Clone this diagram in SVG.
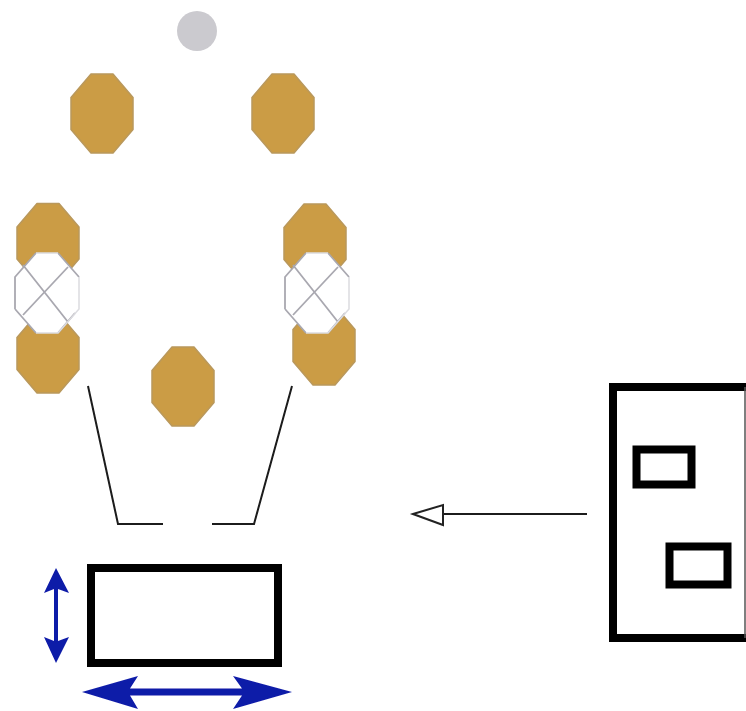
<svg xmlns="http://www.w3.org/2000/svg" width="746" height="711" viewBox="0 0 746 711">
<style>
.gold{fill:#cb9c45;stroke:#b9985c;stroke-width:1.5;stroke-linejoin:round}
.valve{fill:#fff;stroke:none}
.edge{fill:none;stroke:#a9a8b0;stroke-width:1.8}
.faint{fill:none;stroke:#dcdce0;stroke-width:1.5}
.thick{fill:#fff;stroke:#000;stroke-width:8}
.wall{fill:none;stroke:#1a1a1a;stroke-width:2}
.blue{fill:#0f1aa8;stroke:none}
</style>
<defs>
<filter id="soft" x="-20%" y="-20%" width="140%" height="140%"><feGaussianBlur stdDeviation="0.7"/></filter>
<polygon id="oct" points="-11,-39.5 11,-39.5 31,-16 31,16 11,39.5 -11,39.5 -31,16 -31,-16"/>
<g id="valveShape">
<polygon class="valve" points="-11,-40 11,-40 32,-16 32,16 11,40 -11,40 -32,16 -32,-16"/>
<path class="edge" d="M-32,16 L-32,-16 L-11,-40 M11,-40 L32,-16 M-32,16 L-11,40 M11,40 L28,20 M-24,-28 L21,29 M21,-26 L-24,22"/>
<path class="faint" d="M-11,-40 L11,-40 M32,-16 L32,16 L11,40 L-11,40"/>
</g>
</defs>
<rect width="746" height="711" fill="#fff"/>
<g id="nodes" filter="url(#soft)">
<g id="sensor"><circle cx="197" cy="31" r="20" fill="#cbcacf"/></g>
<g id="gold-top-left"><use href="#oct" x="102" y="113.500" class="gold"/></g>
<g id="gold-top-right"><use href="#oct" x="283" y="113.500" class="gold"/></g>
<g id="gold-left-upper"><use href="#oct" x="48" y="243" class="gold"/></g>
<g id="gold-left-lower"><use href="#oct" x="48" y="353.500" class="gold"/></g>
<g id="gold-right-upper"><use href="#oct" x="315" y="243.500" class="gold"/></g>
<g id="gold-right-lower"><use href="#oct" x="324" y="345.500" class="gold"/></g>
<g id="gold-middle"><use href="#oct" x="183" y="386.500" class="gold"/></g>
<g id="valve-left"><use href="#valveShape" x="47" y="293"/></g>
<g id="valve-right"><use href="#valveShape" x="317" y="293"/></g>
<g id="desk"><rect class="thick" x="91" y="568" width="187" height="95"/></g>
<g id="cabinet">
<rect x="613" y="387" width="140" height="251" class="thick"/>
<line x1="745" y1="387" x2="745" y2="638" stroke="#555" stroke-width="1.5"/>
<rect x="636.500" y="449.500" width="55" height="35" class="thick"/>
<rect x="669.500" y="546.500" width="58" height="38" class="thick"/>
</g>
</g>
<g id="connectors" filter="url(#soft)">
<polyline class="wall" points="88,386 118,524 163,524"/>
<polyline class="wall" points="292,386 254,524 212,524"/>
<line x1="443" y1="514" x2="587" y2="514" stroke="#1a1a1a" stroke-width="2"/>
<polygon points="413,514 443,505 443,525" fill="#fff" stroke="#222" stroke-width="2"/>
<polygon class="blue" points="56,568 69,593 58,589 58,641 69,637 56,663 44,637 54,641 54,589 44,593"/>
<polygon class="blue" points="82,692 138,676 130,688.500 242,688.500 233,676 292,692 233,709 242,695.500 130,695.500 138,709"/>
</g>
</svg>
